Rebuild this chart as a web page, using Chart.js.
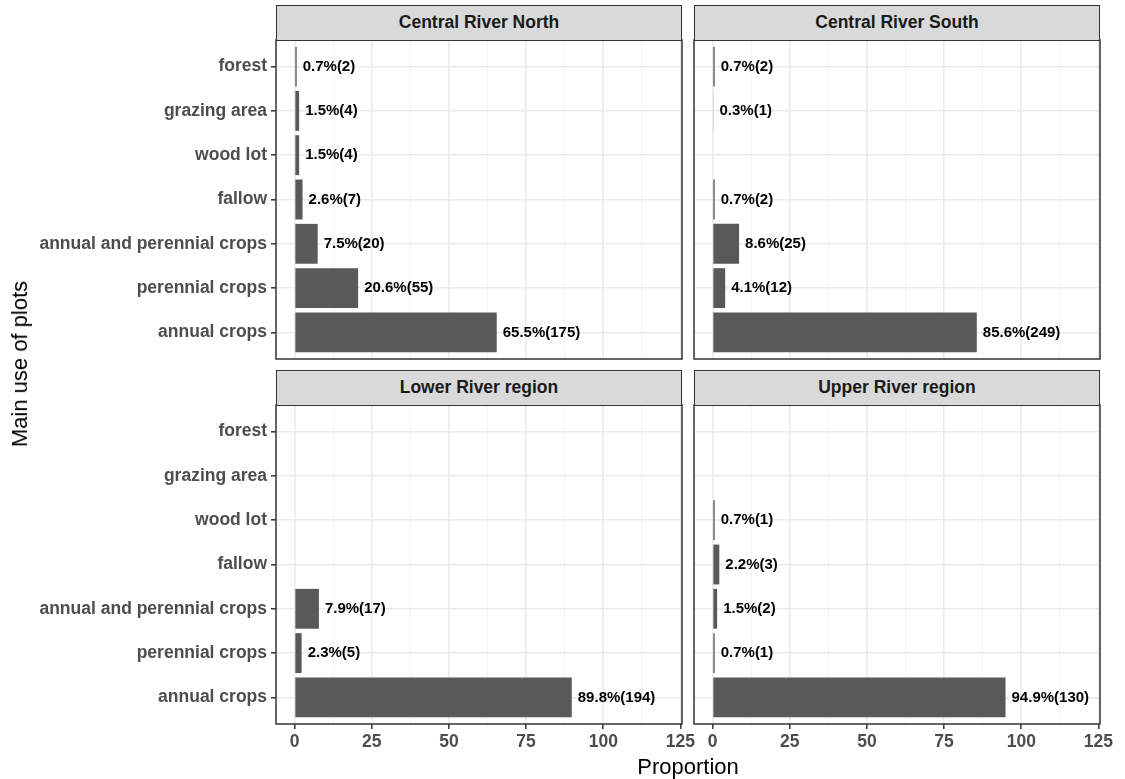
<!DOCTYPE html>
<html>
<head>
<meta charset="utf-8">
<script src="https://cdn.jsdelivr.net/npm/chart.js@4"></script>
<style>
  body { margin: 0; background: #fff; }
  #wrap { position: relative; width: 1125px; height: 779px; font-family: "Liberation Sans", Arial, sans-serif; }
  canvas { position: absolute; }
  .strip {
    position: absolute; box-sizing: border-box; background: #d9d9d9;
    border: 1.5px solid #333; color: #1a1a1a; font-weight: bold;
    font-size: 17.5px; text-align: center; line-height: 32px;
  }
  .axis-title { position: absolute; font-size: 22px; color: #000; white-space: nowrap; transform: translate(-50%, -50%); }
  #ytitle { transform: translate(-50%, -50%) rotate(-90deg); }
</style>
</head>
<body>
<div id="wrap">
  <canvas id="pCRN"></canvas>
  <canvas id="pCRS"></canvas>
  <canvas id="pLRR"></canvas>
  <canvas id="pURR"></canvas>
  <div class="strip" id="sCRN"></div>
  <div class="strip" id="sCRS"></div>
  <div class="strip" id="sLRR"></div>
  <div class="strip" id="sURR"></div>
  <div class="axis-title" id="ytitle" style="left:20px; top:364px;">Main use of plots</div>
  <div class="axis-title" id="xtitle" style="left:688px; top:767px;">Proportion</div>
</div>
<script>
// ---- data ----
const categories = ['forest', 'grazing area', 'wood lot', 'fallow',
  'annual and perennial crops', 'perennial crops', 'annual crops'];
const regions = ['Central River North', 'Central River South', 'Lower River region', 'Upper River region'];

const crnPct = [0.7, 1.5, 1.5, 2.6, 7.5, 20.6, 65.5];
const crnN   = [2, 4, 4, 7, 20, 55, 175];
const crsPct = [0.7, 0.3, null, 0.7, 8.6, 4.1, 85.6];
const crsN   = [2, 1, null, 2, 25, 12, 249];
const lrrPct = [null, null, null, null, 7.9, 2.3, 89.8];
const lrrN   = [null, null, null, null, 17, 5, 194];
const urrPct = [null, null, 0.7, 2.2, 1.5, 0.7, 94.9];
const urrN   = [null, null, 1, 3, 2, 1, 130];

const xTicks = [0, 25, 50, 75, 100, 125];

// ---- style ----
const FONT = '"Liberation Sans", Arial, sans-serif';
const BAR = '#595959';
const GRID = '#ebebeb';
const AXIS_TEXT = '#4d4d4d';
const FRAME = '#333333';

// major + minor (midpoint) x ticks like ggplot
const xAllTicks = [];
xTicks.forEach((t, i) => {
  xAllTicks.push(t);
  if (i < xTicks.length - 1) xAllTicks.push((t + xTicks[i + 1]) / 2);
});
const isMajor = v => xTicks.includes(v);

// labels + panel frame
const barLabels = {
  id: 'barLabels',
  afterDatasetsDraw(chart) {
    const { ctx, chartArea } = chart;
    const meta = chart.getDatasetMeta(0);
    const ds = chart.data.datasets[0];
    ctx.save();
    ctx.font = 'bold 15px ' + FONT;
    ctx.fillStyle = '#000';
    ctx.textBaseline = 'middle';
    ctx.textAlign = 'left';
    meta.data.forEach((bar, i) => {
      const v = ds.data[i].x;
      if (v == null) return;
      ctx.fillText(v.toFixed(1) + '%(' + ds.counts[i] + ')', bar.x + 6, bar.y);
    });
    ctx.strokeStyle = FRAME;
    ctx.lineWidth = 1.5;
    ctx.strokeRect(chartArea.left, chartArea.top, chartArea.width, chartArea.height);
    ctx.restore();
  }
};

function makePanel(id, stripId, title, pct, counts, box, showY, showX) {
  const cl = showY ? 0 : box.left - 10;
  const ct = box.top - 20;
  const cr = box.right + 22;
  const cb = showX ? 779 : box.bottom + 20;

  const cv = document.getElementById(id);
  cv.width = cr - cl;
  cv.height = cb - ct;
  cv.style.left = cl + 'px';
  cv.style.top = ct + 'px';

  const strip = document.getElementById(stripId);
  strip.textContent = title;
  strip.style.left = box.left + 'px';
  strip.style.top = (box.top - 35) + 'px';
  strip.style.width = (box.right - box.left) + 'px';
  strip.style.height = '35.5px';

  new Chart(cv, {
    type: 'bar',
    data: {
      datasets: [{
        data: categories.map((c, i) => ({ y: i + 1, x: pct[i] })),
        counts: counts,
        backgroundColor: BAR,
        borderWidth: 0,
        barPercentage: 0.9,
        categoryPercentage: 1.0
      }]
    },
    options: {
      indexAxis: 'y',
      responsive: false,
      animation: false,
      layout: {
        padding: {
          left: showY ? 0 : box.left - cl,
          top: 20,
          right: cr - box.right,
          bottom: showX ? 0 : 20
        }
      },
      plugins: { legend: { display: false }, tooltip: { enabled: false } },
      scales: {
        x: {
          type: 'linear',
          min: -6,
          max: 125.5,
          afterBuildTicks: s => { s.ticks = xAllTicks.map(v => ({ value: v })); },
          afterFit: s => { s.height = showX ? cb - box.bottom : 0; },
          border: { display: false },
          grid: {
            color: c => isMajor(c.tick.value) ? GRID : '#f3f3f3',
            lineWidth: c => isMajor(c.tick.value) ? 1.6 : 1,
            drawTicks: showX,
            tickLength: 5,
            tickWidth: 1.5,
            tickColor: c => isMajor(c.tick.value) ? FRAME : 'rgba(0,0,0,0)'
          },
          ticks: {
            display: showX,
            autoSkip: false,
            maxRotation: 0,
            padding: 3,
            color: AXIS_TEXT,
            font: { family: FONT, size: 17.5, weight: 'bold' },
            callback: v => isMajor(v) ? String(v) : ''
          }
        },
        y: {
          type: 'linear',
          reverse: true,
          offset: false,
          min: 0.4,
          max: 7.6,
          afterBuildTicks: s => { s.ticks = categories.map((c, i) => ({ value: i + 1 })); },
          afterFit: s => { s.width = showY ? box.left - cl : 0; },
          border: { display: false },
          grid: {
            offset: false,
            color: GRID,
            lineWidth: 1.6,
            drawTicks: showY,
            tickLength: 5,
            tickWidth: 1.5,
            tickColor: FRAME
          },
          ticks: {
            display: showY,
            autoSkip: false,
            padding: 4,
            color: AXIS_TEXT,
            font: { family: FONT, size: 17.5, weight: 'bold' },
            callback: v => categories[v - 1]
          }
        }
      }
    },
    plugins: [barLabels]
  });
}

// panel plot areas in page pixels
const boxTL = { left: 276, top: 40, right: 682, bottom: 359 };
const boxTR = { left: 694, top: 40, right: 1100, bottom: 359 };
const boxBL = { left: 276, top: 405, right: 682, bottom: 724 };
const boxBR = { left: 694, top: 405, right: 1100, bottom: 724 };

makePanel('pCRN', 'sCRN', regions[0], crnPct, crnN, boxTL, true, false);
makePanel('pCRS', 'sCRS', regions[1], crsPct, crsN, boxTR, false, false);
makePanel('pLRR', 'sLRR', regions[2], lrrPct, lrrN, boxBL, true, true);
makePanel('pURR', 'sURR', regions[3], urrPct, urrN, boxBR, false, true);
</script>
</body>
</html>
